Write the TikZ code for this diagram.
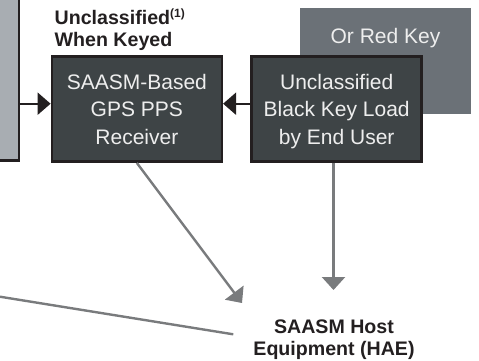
\documentclass[tikz,border=0pt]{standalone}
\usepackage{fontspec}
\setmainfont{Liberation Sans}
\usetikzlibrary{arrows.meta}
\definecolor{ink}{HTML}{231F20}
\definecolor{slate}{HTML}{3E4446}
\definecolor{steel}{HTML}{6B7177}
\definecolor{mist}{HTML}{A8ADB2}
\definecolor{wire}{HTML}{797B7D}
\definecolor{paper}{HTML}{EEEEEE}
\begin{document}
\begin{tikzpicture}[x=1pt,y=-1pt,
  darkbox/.style={draw=ink, fill=slate, line width=2.5pt, inner sep=0pt,
    minimum width=170pt, minimum height=105pt, text=paper, align=center,
    font=\fontsize{21}{27.5}\selectfont, text depth=-3pt},
  boxtext/.style={text=paper, inner sep=0pt, anchor=base,
    font=\fontsize{21}{27.5}\selectfont},
  heading/.style={inner sep=0pt, text=ink,
    font=\bfseries\fontsize{19.6}{22}\selectfont},
  blackarrow/.style={draw=ink, line width=2.3pt, -{Triangle[length=13pt,width=22pt]}},
  grayarrow/.style={draw=wire, line width=2.4pt, -{Triangle[length=13pt,width=23pt]}},
  grayline/.style={draw=wire, line width=2.4pt}]
\useasboundingbox (0,0) rectangle (479,360);
\clip (0,0) rectangle (479,360);

% light host box, running off the left edge
\node[draw=ink, fill=mist, line width=2.5pt, inner sep=0pt,
      minimum width=100pt, minimum height=200pt, anchor=south east]
      (host) at (20,161.7) {};

% red key panel behind the black key loader
\node[fill=steel, inner sep=0pt, minimum width=170.7pt, minimum height=106pt,
      anchor=north west] (redkey) at (300,7.3) {};
\node[boxtext] (redlabel) at (385.5,43) {Or Red Key};

% receiver and key loader
\node[darkbox] (rcv) at (136.85,109.2) {SAASM-Based\\GPS PPS\\Receiver};
\node[darkbox] (key) at (336.7,109.2) {Unclassified\\Black Key Load\\by End User};

% headings (base anchor sits on the last line)
\node[heading, anchor=base west, align=left] (keyed) at (54.5,46.7)
  {Unclassified\textsuperscript{\fontsize{12}{12}\selectfont(1)}\\When Keyed};
\node[heading, anchor=base, align=center] (hae) at (334,355)
  {SAASM Host\\Equipment (HAE)};

% connector levels and free ends
\coordinate (lvl) at (0,103.7);
\coordinate (diagtip) at (242,303);
\coordinate (droptip) at (333.5,290);
\coordinate (droptop) at (333.5,0);
\coordinate (farleft) at (-10,295.1);
\coordinate (farend) at (233.3,334.3);

% black connectors into the receiver
\draw[blackarrow] (host.east |- lvl) -- (rcv.west |- lvl);
\draw[blackarrow] (key.west |- lvl) -- (rcv.east |- lvl);

% gray connectors toward the host equipment
\draw[grayarrow] (rcv.south) -- (diagtip);
\draw[grayarrow] (key.south -| droptop) -- (droptip);
\draw[grayline] (farleft) -- (farend);
\end{tikzpicture}
\end{document}
